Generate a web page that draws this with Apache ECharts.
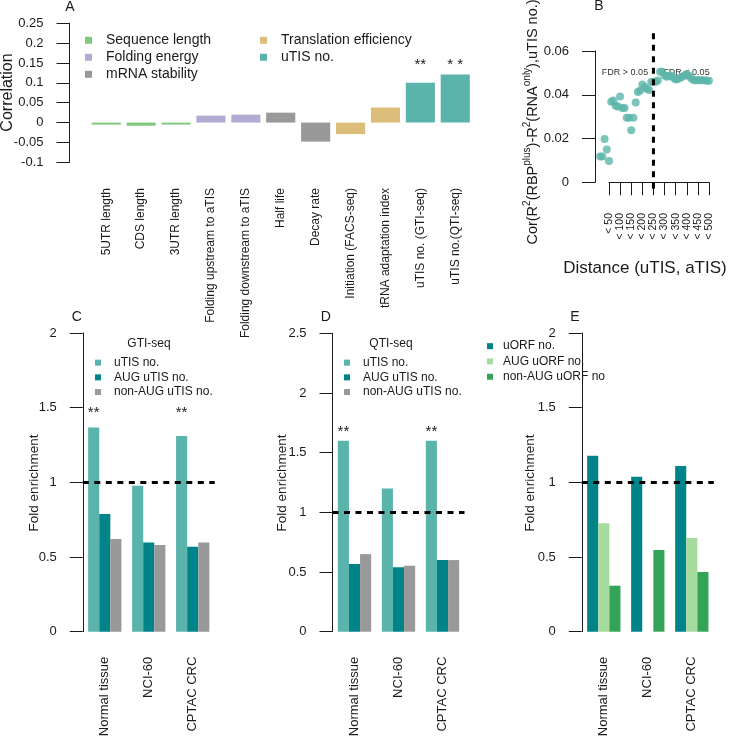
<!DOCTYPE html>
<html><head><meta charset="utf-8">
<script src="https://cdn.jsdelivr.net/npm/echarts@6/dist/echarts.min.js"></script>
<style>html,body{margin:0;padding:0;background:#fff}#c{width:733px;height:738px}</style>
</head><body><div id="c"></div>
<script>
// ---------- Panel A ----------
const aCategories = ['5UTR length','CDS length','3UTR length','Folding upstream to aTIS','Folding downstream to aTIS','Half life','Decay rate','Initiation (FACS-seq)','tRNA adaptation index','uTIS no. (GTI-seq)','uTIS no.(QTI-seq)'];
const aValues = [-0.005,-0.008,-0.005,0.0175,0.02,0.025,-0.048,-0.029,0.038,0.1,0.121];
const aGroupOf = ['Sequence length','Sequence length','Sequence length','Folding energy','Folding energy','mRNA stability','mRNA stability','Translation efficiency','Translation efficiency','uTIS no.','uTIS no.'];
const aGroups = ['Sequence length','Folding energy','mRNA stability','Translation efficiency','uTIS no.'];
const aSig = ['','','','','','','','','','**','* *'];
const aStarLevel = 0.146;

// ---------- Panel B ----------
const bThreshold = [10,20,30,40,50,60,70,80,90,100,110,120,130,140,150,160,170,180,190,200,210,220,230,240,250,260,270,280,290,300,310,320,330,340,350,360,370,380,390,400,410,420,430,440,450,460,470,480,490,500];
const bValues = [0.0118,0.0118,0.0198,0.0150,0.0097,0.0368,0.0374,0.0350,0.0346,0.0392,0.0340,0.0340,0.0295,0.0295,0.0238,0.0295,0.0365,0.0413,0.0420,0.0447,0.0435,0.0427,0.0422,0.0458,0.0460,0.0460,0.0465,0.0505,0.0505,0.0488,0.0482,0.0486,0.0488,0.0478,0.0470,0.0472,0.0478,0.0482,0.0488,0.0495,0.0486,0.0475,0.0468,0.0466,0.0466,0.0466,0.0466,0.0466,0.0464,0.0464];
const bCut = 250;
const bRegion = [-0.003, 0.0706];

// ---------- Panels C, D, E ----------
const groupCats = ['Normal tissue','NCI-60','CPTAC CRC'];
const cUTIS = [1.368,0.977,1.31];
const cAUG = [0.788,0.598,0.569];
const cNonAUG = [0.62,0.58,0.598];
const cSig = ['**','','**'];
const cStarLevel = 1.467;
const dUTIS = [1.6,1.2,1.6];
const dAUG = [0.567,0.539,0.6];
const dNonAUG = [0.65,0.553,0.6];
const dSig = ['**','','**'];
const dStarLevel = 1.677;
const eUORF = [1.178,1.037,1.109];
const eAUG = [0.726,null,0.627];
const eNonAUG = [0.308,0.547,0.4];
const refLevel = 1;

const FONT = 'Liberation Sans, Arial, Helvetica, sans-serif';
const INK = '#1a1a1a';
const colA = {'Sequence length':'#7fc97f','Folding energy':'#b3abd3','mRNA stability':'#999999','Translation efficiency':'#dcbe7a','uTIS no.':'#5ab4ac'};
const TEAL = '#5ab4ac', DTEAL = '#01838a', GRAY = '#999999', LGREEN = '#a6dba0', GREEN = '#33a457';
const DASH = [6, 5.5];

function yAx(grid, min, max, interval, offset) {
  return {
    type:'value', gridIndex:grid, min, max, interval, offset,
    splitLine:{show:false},
    axisLine:{show:true, lineStyle:{color:INK, width:1}},
    axisTick:{show:true, length:13, lineStyle:{color:INK, width:1}},
    axisLabel:{margin:26, fontSize:13, color:INK, fontFamily:FONT}
  };
}
function catAx(grid, data, margin, size) {
  return {type:'category', gridIndex:grid, data,
    axisLine:{show:false}, axisTick:{show:false},
    axisLabel:{rotate:90, interval:0, margin, fontSize:size, color:INK, fontFamily:FONT}};
}
function stars(cats, sig, level, size) {
  return {symbol:'rect', symbolSize:1, itemStyle:{color:'rgba(0,0,0,0)'}, silent:true,
    label:{show:true, position:'inside', formatter:p=>p.name, fontSize:size, color:INK, fontFamily:FONT},
    data: sig.map((s,i)=> s ? {name:s, coord:[cats[i], level]} : null).filter(Boolean)};
}
function refLine() {
  return {symbol:'none', silent:true, label:{show:false},
    lineStyle:{type:DASH, width:3, color:'#000'}, data:[{yAxis:refLevel}]};
}
function groupBars(grid, names, arrays, colors, sig, level) {
  return names.map((nm, k) => {
    const s = {type:'bar', name:nm, xAxisIndex:grid, yAxisIndex:grid, barGap:'0%', barCategoryGap:'24.3%',
      data: arrays[k].map(v => v == null ? '-' : v), itemStyle:{color:colors[k]}, silent:true};
    if (k === 0) {
      s.markLine = refLine();
      if (sig) s.markPoint = stars(groupCats, sig, level, 15);
    }
    return s;
  });
}

const series = [];
aGroups.forEach(g => {
  const s = {type:'bar', name:g, xAxisIndex:0, yAxisIndex:0, barGap:'-100%', barCategoryGap:'16.6%',
    data: aValues.map((v,i)=> aGroupOf[i] === g ? v : '-'), itemStyle:{color:colA[g]}, silent:true};
  if (g === 'uTIS no.') s.markPoint = stars(aCategories, aSig, aStarLevel, 15);
  series.push(s);
});
series.push({type:'scatter', xAxisIndex:1, yAxisIndex:1, clip:false, symbolSize:8,
  itemStyle:{color:'#5cb5aa'}, data: bThreshold.map((t,i)=>[t, bValues[i]]), silent:true});
series.push({type:'line', xAxisIndex:1, yAxisIndex:1, clip:false, symbol:'none', silent:true,
  lineStyle:{type:DASH, width:3, color:'#000'}, data:[[bCut, bRegion[0]],[bCut, bRegion[1]]]});
series.push(...groupBars(2, ['uTIS no.','AUG uTIS no.','non-AUG uTIS no.'], [cUTIS,cAUG,cNonAUG], [TEAL,DTEAL,GRAY], cSig, cStarLevel));
series.push(...groupBars(3, ['uTIS no.','AUG uTIS no.','non-AUG uTIS no.'], [dUTIS,dAUG,dNonAUG], [TEAL,DTEAL,GRAY], dSig, dStarLevel));
series.push(...groupBars(4, ['uORF no.','AUG uORF no.','non-AUG uORF no'], [eUORF,eAUG,eNonAUG], [DTEAL,LGREEN,GREEN], null, 0));

function legend(data, left, top, size, lh, box, pad) {
  return {data, left, top, orient:'vertical', itemWidth:box, itemHeight:box, itemGap:0, padding:0, icon:'rect',
    selectedMode:false, textStyle:{fontSize:size, lineHeight:lh, color:INK, fontFamily:FONT, padding:[0,0,0,pad]}};
}
function txt(text, x, y, size, extra, rot) {
  return {type:'text', x, y, rotation: rot || 0, silent:true,
    style:Object.assign({text, fontSize:size, fontFamily:FONT, fill:INK, align:'center', verticalAlign:'middle'}, extra||{})};
}
const UP = Math.PI / 2;
const G = {outerBoundsMode:'none', containLabel:false};

const option = {
  animation:false,
  grid:[
    Object.assign({left:88.8, top:23.3, width:383.9, height:139}, G),
    Object.assign({left:609, top:51, width:100, height:131.3}, G),
    Object.assign({left:82.8, top:333, width:131.9, height:298.7}, G),
    Object.assign({left:332.5, top:333.3, width:132, height:298.4}, G),
    Object.assign({left:581.8, top:333, width:132, height:298.7}, G)
  ],
  xAxis:[
    catAx(0, aCategories, 25.7, 12),
    {type:'value', gridIndex:1, min:50, max:500, interval:50, offset:6.7, splitLine:{show:false},
      axisLine:{show:true, lineStyle:{color:INK}}, axisTick:{show:true, length:13, lineStyle:{color:INK}},
      axisLabel:{rotate:90, margin:24, fontSize:10.5, color:INK, fontFamily:FONT, formatter:v=>'< ' + v}},
    catAx(2, groupCats, 25, 13),
    catAx(3, groupCats, 25, 13),
    catAx(4, groupCats, 25, 13)
  ],
  yAxis:[
    yAx(0, -0.1, 0.25, 0.05, 19.3),
    yAx(1, 0, 0.06, 0.02, 14),
    yAx(2, 0, 2, 0.5, 0),
    yAx(3, 0, 2.5, 0.5, 0),
    yAx(4, 0, 2, 0.5, 0)
  ],
  legend:[
    legend(['Sequence length','Folding energy','mRNA stability'], 85, 31.8, 14, 17, 7, 9),
    legend(['Translation efficiency','uTIS no.'], 260, 31.8, 14, 17, 7, 9),
    legend(['uTIS no.','AUG uTIS no.','non-AUG uTIS no.'], 95, 355.3, 12, 14.7, 6, 8),
    legend(['uTIS no.','AUG uTIS no.','non-AUG uTIS no.'], 344, 355.3, 12, 14.7, 6, 8),
    legend(['uORF no.','AUG uORF no.','non-AUG uORF no'], 487, 338.5, 12, 15.3, 6, 5)
  ],
  graphic:[
    txt('A', 70, 7, 14), txt('B', 599, 6, 14), txt('C', 76.7, 316.7, 14), txt('D', 325.7, 316.7, 14), txt('E', 575, 317, 14),
    txt('GTI-seq', 149, 344, 12), txt('QTI-seq', 391, 344, 12),
    txt('FDR > 0.05', 625, 73, 9, {fill:'#333'}), txt('FDR < 0.05', 686.5, 73, 9, {fill:'#333'}),
    txt('Distance (uTIS, aTIS)', 645, 268, 17),
    txt('Correlation', 8, 92.5, 16, null, UP),
    txt('Fold enrichment', 34, 483, 13.5, null, UP),
    txt('Fold enrichment', 282, 483, 13.5, null, UP),
    txt('Fold enrichment', 530, 483, 13.5, null, UP),
    txt('Cor(R{s|2}(RBP{s|plus})-R{s|2}(RNA{s|only}),uTIS no.)', 533, 122, 14.5,
      {lineHeight:22, rich:{s:{fontSize:10, lineHeight:10, verticalAlign:'top', fill:INK, fontFamily:FONT}}}, UP)
  ],
  series
};
const chart = echarts.init(document.getElementById('c'), null, {renderer:'canvas'});
chart.setOption(option);
</script></body></html>
